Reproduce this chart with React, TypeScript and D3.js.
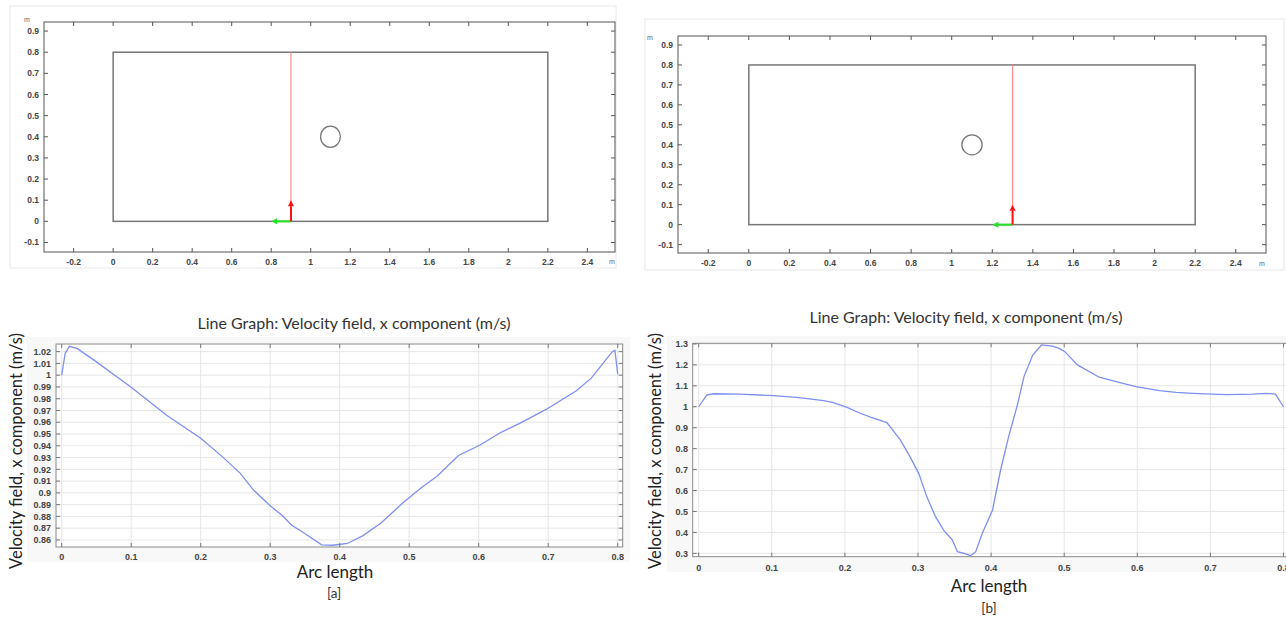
import React from "react";
import * as d3 from "d3";

// ---------- data ----------
const geoXTicks = [-0.2, 0, 0.2, 0.4, 0.6, 0.8, 1, 1.2, 1.4, 1.6, 1.8, 2, 2.2, 2.4];
const geoYTicks = [-0.1, 0, 0.1, 0.2, 0.3, 0.4, 0.5, 0.6, 0.7, 0.8, 0.9];
const channelWidth = 2.2;
const channelHeight = 0.8;
const cylinderX = 1.1;
const cylinderY = 0.4;
const cylinderR = 0.05;
const cutLineA = 0.9;
const cutLineB = 1.3;

const arcA = [0, 0.005, 0.011, 0.022, 0.046, 0.1, 0.151, 0.2, 0.231, 0.257, 0.276, 0.3, 0.317, 0.331, 0.346, 0.374, 0.39, 0.411, 0.433, 0.459, 0.492, 0.516, 0.54, 0.571, 0.602, 0.631, 0.659, 0.697, 0.74, 0.762, 0.774, 0.792, 0.796, 0.8];
const velA = [1.0, 1.0186, 1.0245, 1.0228, 1.013, 0.9897, 0.966, 0.9464, 0.9308, 0.9166, 0.9024, 0.889, 0.881, 0.8725, 0.867, 0.8558, 0.8555, 0.857, 0.8635, 0.8742, 0.892, 0.9038, 0.9141, 0.9318, 0.9407, 0.9511, 0.9591, 0.9709, 0.9866, 0.9975, 1.0064, 1.0198, 1.0212, 1.0008];

const arcB = [0, 0.011, 0.02, 0.057, 0.102, 0.134, 0.171, 0.184, 0.203, 0.221, 0.235, 0.2575, 0.276, 0.289, 0.301, 0.312, 0.324, 0.335, 0.347, 0.354, 0.363, 0.372, 0.379, 0.388, 0.402, 0.413, 0.424, 0.436, 0.445, 0.457, 0.469, 0.484, 0.493, 0.501, 0.518, 0.548, 0.571, 0.598, 0.63, 0.653, 0.676, 0.703, 0.722, 0.758, 0.776, 0.789, 0.8];
const velB = [1.0, 1.056, 1.062, 1.06, 1.053, 1.045, 1.029, 1.02, 0.997, 0.969, 0.95, 0.924, 0.841, 0.762, 0.682, 0.571, 0.475, 0.411, 0.364, 0.308, 0.3, 0.289, 0.308, 0.396, 0.507, 0.698, 0.857, 1.009, 1.144, 1.247, 1.295, 1.29, 1.279, 1.263, 1.2, 1.141, 1.12, 1.096, 1.077, 1.069, 1.064, 1.06, 1.058, 1.06, 1.064, 1.06, 1.0];

const arcTicks = [0, 0.1, 0.2, 0.3, 0.4, 0.5, 0.6, 0.7, 0.8];
const velTicksA = [0.86, 0.87, 0.88, 0.89, 0.9, 0.91, 0.92, 0.93, 0.94, 0.95, 0.96, 0.97, 0.98, 0.99, 1, 1.01, 1.02];
const velTicksB = [0.3, 0.4, 0.5, 0.6, 0.7, 0.8, 0.9, 1, 1.1, 1.2, 1.3];

const titleText = "Line Graph: Velocity field, x component (m/s)";
const yLabelText = "Velocity field, x component (m/s)";
const xLabelText = "Arc length";

const fmt = (v: number) => String(+v.toFixed(2));
const TICKFONT = "'Liberation Sans', Arial, sans-serif";
const LABELFONT = "Lato, 'Open Sans', sans-serif";

function arrow(x1: number, y1: number, x2: number, y2: number, color: string, key: string) {
  const dx = x2 - x1, dy = y2 - y1;
  const L = Math.hypot(dx, dy);
  const ux = dx / L, uy = dy / L;
  const hl = 6, hw = 3;
  const bx = x2 - ux * hl, by = y2 - uy * hl;
  return (
    <g key={key}>
      <line x1={x1} y1={y1} x2={bx} y2={by} stroke={color} strokeWidth={2} />
      <path d={`M${x2},${y2}L${bx - uy * hw},${by + ux * hw}L${bx + uy * hw},${by - ux * hw}Z`} fill={color} />
    </g>
  );
}

type GeoProps = {
  xd: [number, number]; xr: [number, number];
  yd: [number, number]; yr: [number, number];
  cut: number; mPos: [number, number]; xmPos: [number, number];
  border: [number, number, number, number];
};

function GeoPanel({ xd, xr, yd, yr, cut, mPos, xmPos, border }: GeoProps) {
  const x = d3.scaleLinear().domain(xd).range(xr);
  const y = d3.scaleLinear().domain(yd).range(yr);
  const [L, R] = xr;
  const [B, T] = yr;
  const tk = 4;
  return (
    <g>
      <rect x={border[0]} y={border[1]} width={border[2]} height={border[3]} fill="#fff" stroke="#e8e8e8" strokeWidth={1} />
      <rect x={L} y={T} width={R - L} height={B - T} fill="#fff" stroke="#555" strokeWidth={1} />
      {geoXTicks.map((t) => (
        <g key={"x" + t}>
          <line x1={x(t)} x2={x(t)} y1={B} y2={B - tk} stroke="#555" />
          <line x1={x(t)} x2={x(t)} y1={T} y2={T + tk} stroke="#555" />
          <text x={x(t)} y={B + 13} textAnchor="middle" fontSize={8.5} fontFamily={TICKFONT} fontWeight="bold" fill="#444">{fmt(t)}</text>
        </g>
      ))}
      {geoYTicks.map((t) => (
        <g key={"y" + t}>
          <line x1={L} x2={L + tk} y1={y(t)} y2={y(t)} stroke="#555" />
          <line x1={R} x2={R - tk} y1={y(t)} y2={y(t)} stroke="#555" />
          <text x={L - 5} y={y(t) + 3} textAnchor="end" fontSize={8.5} fontFamily={TICKFONT} fontWeight="bold" fill="#444">{fmt(t)}</text>
        </g>
      ))}
      <text x={mPos[0]} y={mPos[1]} fontSize={7} fontFamily={TICKFONT} fill="#666">m</text>
      <text x={xmPos[0]} y={xmPos[1]} fontSize={7} fontFamily={TICKFONT} fill="#666">m</text>
      <rect x={x(0)} y={y(channelHeight)} width={x(channelWidth) - x(0)} height={y(0) - y(channelHeight)} fill="none" stroke="#777" strokeWidth={1.5} />
      <ellipse cx={x(cylinderX)} cy={y(cylinderY)} rx={x(cylinderR) - x(0)} ry={y(0) - y(cylinderR)} fill="none" stroke="#777" strokeWidth={1.3} />
      <line x1={x(cut)} x2={x(cut)} y1={y(0)} y2={y(channelHeight)} stroke="#ff8a8a" strokeWidth={1.2} />
      {arrow(x(cut), y(0), x(cut - 0.1), y(0), "#22e022", "g")}
      {arrow(x(cut), y(0), x(cut), y(0.1), "#ff1010", "r")}
    </g>
  );
}

type LineProps = {
  arc: number[]; vel: number[]; yTicks: number[];
  xd: [number, number]; xr: [number, number];
  yd: [number, number]; yr: [number, number];
  bg: [number, number, number, number];
  title: [number, number]; yLab: [number, number]; xLab: [number, number];
  tag: string; tagPos: [number, number]; yTickEnd: number; xTickY: number;
};

function LinePanel(p: LineProps) {
  const x = d3.scaleLinear().domain(p.xd).range(p.xr);
  const y = d3.scaleLinear().domain(p.yd).range(p.yr);
  const [L, R] = p.xr;
  const [B, T] = p.yr;
  const pts = p.arc.map((a, i) => [a, p.vel[i]] as [number, number]);
  const line = d3.line<[number, number]>().x((d) => x(d[0])).y((d) => y(d[1]));
  const tk = 4;
  return (
    <g>
      <rect x={p.bg[0]} y={p.bg[1]} width={p.bg[2]} height={p.bg[3]} fill="#f8f8f8" />
      <rect x={L} y={T} width={R - L} height={B - T} fill="#fff" />
      {arcTicks.map((t) => (
        <line key={"gx" + t} x1={x(t)} x2={x(t)} y1={T} y2={B} stroke="#e6e6e6" />
      ))}
      {p.yTicks.map((t) => (
        <line key={"gy" + t} x1={L} x2={R} y1={y(t)} y2={y(t)} stroke="#e6e6e6" />
      ))}
      <path d={line(pts) || ""} fill="none" stroke="#7e8ff4" strokeWidth={1.3} />
      <rect x={L} y={T} width={R - L} height={B - T} fill="none" stroke="#8a8a8a" strokeWidth={1} />
      {arcTicks.map((t) => (
        <g key={"tx" + t}>
          <line x1={x(t)} x2={x(t)} y1={B} y2={B - tk} stroke="#777" />
          <line x1={x(t)} x2={x(t)} y1={T} y2={T + tk} stroke="#777" />
          <text x={x(t)} y={p.xTickY} textAnchor="middle" fontSize={9} fontFamily={TICKFONT} fontWeight="bold" fill="#444">{fmt(t)}</text>
        </g>
      ))}
      {p.yTicks.map((t) => (
        <g key={"ty" + t}>
          <line x1={L} x2={L + tk} y1={y(t)} y2={y(t)} stroke="#777" />
          <line x1={R} x2={R - tk} y1={y(t)} y2={y(t)} stroke="#777" />
          <text x={p.yTickEnd} y={y(t) + 3.2} textAnchor="end" fontSize={9} fontFamily={TICKFONT} fontWeight="bold" fill="#444">{fmt(t)}</text>
        </g>
      ))}
      <text x={p.title[0]} y={p.title[1]} textAnchor="middle" fontSize={16} fontFamily={LABELFONT} fill="#333">{titleText}</text>
      <text transform={`translate(${p.yLab[0]},${p.yLab[1]}) rotate(-90)`} textAnchor="middle" fontSize={16.5} fontFamily={LABELFONT} fill="#222">{yLabelText}</text>
      <text x={p.xLab[0]} y={p.xLab[1]} textAnchor="middle" fontSize={17} fontFamily={LABELFONT} fill="#222">{xLabelText}</text>
      <text x={p.tagPos[0]} y={p.tagPos[1]} textAnchor="middle" fontSize={13.5} fontFamily={LABELFONT} fill="#333">{p.tag}</text>
    </g>
  );
}

export default function App() {
  return (
    <svg width={1286} height={617} style={{ position: "absolute", left: 0, top: 0, background: "#fff" }}>
      <GeoPanel xd={[-0.35, 2.54]} xr={[44, 615]} yd={[-0.145, 0.943]} yr={[252, 22]} cut={cutLineA}
        mPos={[24, 22]} xmPos={[609, 264]} border={[10, 6, 606, 262]} />
      <GeoPanel xd={[-0.349, 2.549]} xr={[678, 1266]} yd={[-0.142, 0.945]} yr={[253, 36]} cut={cutLineB}
        mPos={[647, 40]} xmPos={[1259, 266]} border={[645, 19, 639, 251]} />
      <LinePanel arc={arcA} vel={velA} yTicks={velTicksA}
        xd={[-0.0082, 0.8072]} xr={[56, 622.7]} yd={[0.854, 1.0265]} yr={[547, 344]}
        bg={[27, 337, 603, 225]} title={[354, 329]} yLab={[22, 451]} xLab={[335, 578]}
        tag="[a]" tagPos={[334, 598]} yTickEnd={51} xTickY={560} />
      <LinePanel arc={arcB} vel={velB} yTicks={velTicksB}
        xd={[-0.0082, 0.81]} xr={[692.7, 1290.8]} yd={[0.284, 1.303]} yr={[556.7, 343.3]}
        bg={[667, 336, 619, 236]} title={[966, 323]} yLab={[661, 451]} xLab={[989, 592]}
        tag="[b]" tagPos={[989, 613]} yTickEnd={688} xTickY={571} />
    </svg>
  );
}
